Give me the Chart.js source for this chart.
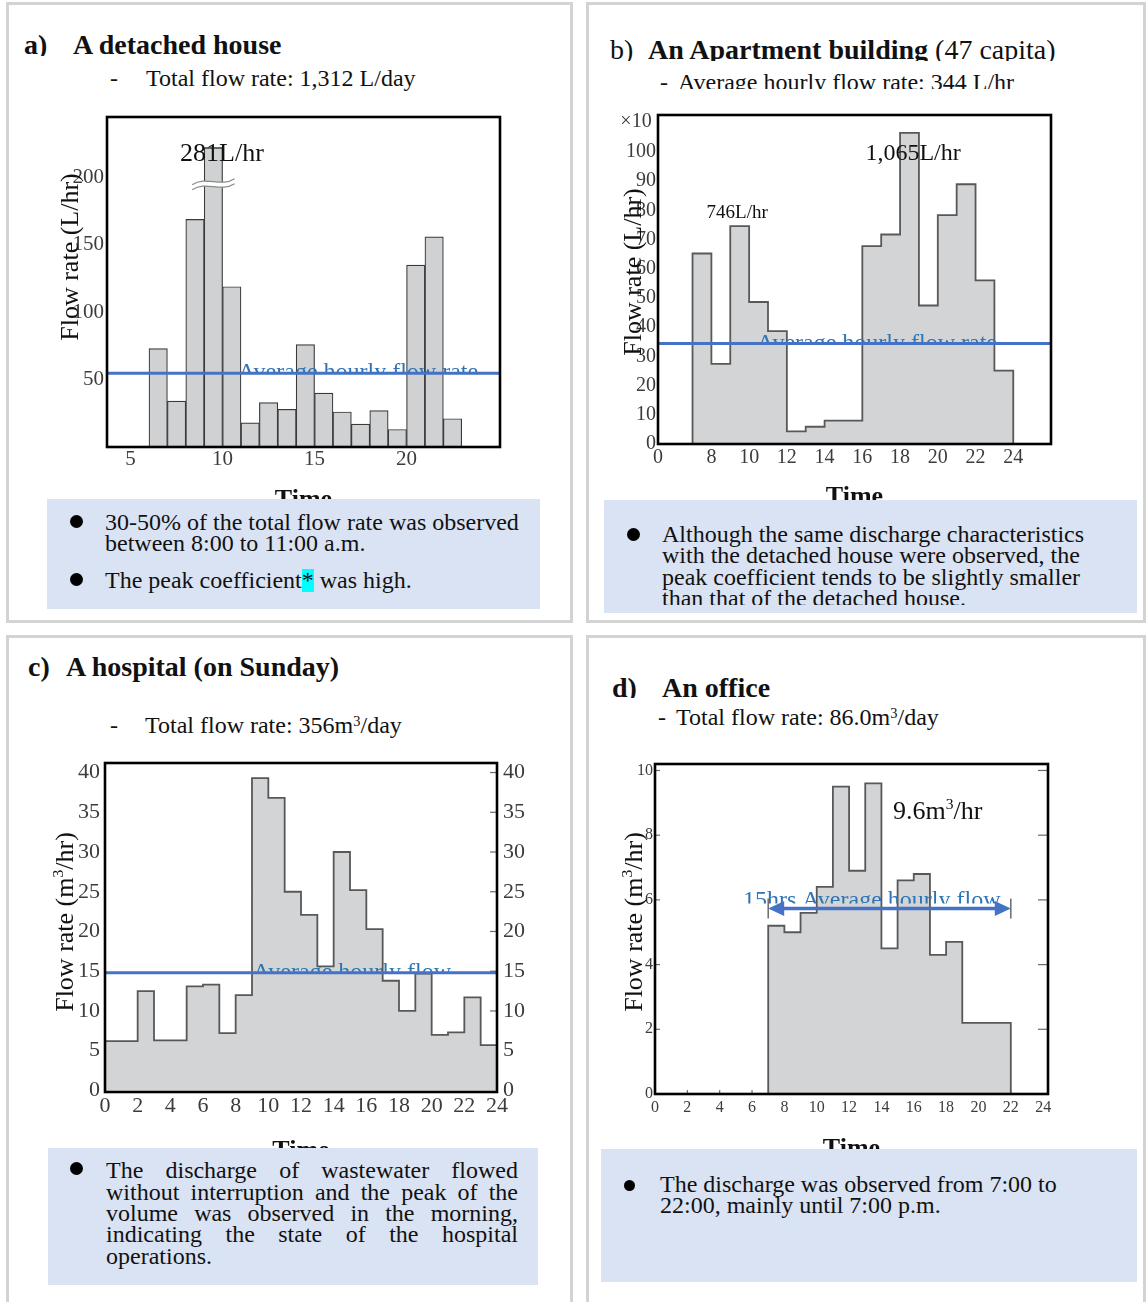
<!DOCTYPE html>
<html lang="en">
<head>
<meta charset="utf-8">
<title>Hourly wastewater discharge by building type</title>
<script src="https://cdn.jsdelivr.net/npm/chart.js@4.4.1/dist/chart.umd.min.js"></script>
<style>
  html, body { margin:0; padding:0; background:#fff; }
  body { position:relative; width:1146px; height:1302px; overflow:hidden;
         font-family:"Liberation Serif","Times New Roman",serif; color:#111; }
  .panel { position:absolute; box-sizing:border-box; border:3px solid #d3d3d3; }
  .clip { position:absolute; overflow:hidden; }
  .t { position:absolute; white-space:nowrap; }
  .h { font-size:28px; line-height:28px; }
  .hb { font-weight:bold; }
  .s { font-size:24px; line-height:24px; }
  .note { position:absolute; background:#dae3f3; }
  .dot { position:absolute; border-radius:50%; background:#000; }
  sup { font-size:0.6em; line-height:0; vertical-align:0.5em; }
  canvas { position:absolute; }
  .mark { background:#00ffff; display:inline-block; line-height:23px; }
  .just { text-align:justify; text-align-last:justify; white-space:normal; }
</style>
</head>
<body>
<!-- panel frames -->
<div class="panel" style="left:6px;top:2px;width:567px;height:621px"></div>
<div class="panel" style="left:586px;top:2px;width:560px;height:621px"></div>
<div class="panel" style="left:6px;top:635px;width:567px;height:680px"></div>
<div class="panel" style="left:586px;top:635px;width:560px;height:680px"></div>

<!-- chart canvases -->
<canvas id="chartA" width="500" height="420" style="left:40px;top:100px"></canvas>
<canvas id="chartB" width="500" height="420" style="left:600px;top:95px"></canvas>
<canvas id="chartC" width="510" height="420" style="left:40px;top:745px"></canvas>
<canvas id="chartD" width="500" height="420" style="left:600px;top:745px"></canvas>

<!-- a) detached house -->
<div class="clip" style="left:0;top:31px;width:580px;height:25px">
  <div class="t h hb" style="left:24px;top:0">a)</div>
  <div class="t h hb" style="left:73px;top:0">A detached house</div>
</div>
<div class="t s" style="left:110px;top:66px">-</div>
<div class="t s" style="left:146px;top:66px">Total flow rate: 1,312 L/day</div>

<!-- b) apartment building -->
<div class="clip" style="left:580px;top:36px;width:566px;height:25px">
  <div class="t h" style="left:30px;top:0">b)</div>
  <div class="t h" style="left:68px;top:0"><b>An Apartment building</b> (47 capita)</div>
</div>
<div class="clip" style="left:580px;top:70px;width:566px;height:19px">
  <div class="t s" style="left:80px;top:0">-</div>
  <div class="t s" style="left:98px;top:0">Average hourly flow rate: 344 L/hr</div>
</div>

<!-- c) hospital -->
<div class="t h hb" style="left:28px;top:653px">c)</div>
<div class="t h hb" style="left:66px;top:653px">A hospital (on Sunday)</div>
<div class="t s" style="left:110px;top:713px">-</div>
<div class="t s" style="left:145px;top:713px">Total flow rate: 356m<sup>3</sup>/day</div>

<!-- d) office -->
<div class="clip" style="left:580px;top:674px;width:566px;height:24px">
  <div class="t h hb" style="left:32px;top:0">d)</div>
  <div class="t h hb" style="left:82px;top:0">An office</div>
</div>
<div class="t s" style="left:658px;top:705px">-</div>
<div class="t s" style="left:676px;top:705px">Total flow rate: 86.0m<sup>3</sup>/day</div>

<!-- notes -->
<div class="note" style="left:47px;top:499px;width:493px;height:110px"></div>
<div class="dot" style="left:70px;top:515px;width:13px;height:13px"></div>
<div class="t s" style="left:105px;top:510px">30-50% of the total flow rate was observed</div>
<div class="t s" style="left:105px;top:531px">between 8:00 to 11:00 a.m.</div>
<div class="dot" style="left:70px;top:573px;width:13px;height:13px"></div>
<div class="t s" style="left:105px;top:568px">The peak coefficient<span class="mark">*</span> was high.</div>

<div class="note" style="left:604px;top:500px;width:533px;height:113px"></div>
<div class="clip" style="left:604px;top:500px;width:533px;height:105px">
  <div class="dot" style="left:23px;top:28px;width:13px;height:13px"></div>
  <div class="t s" style="left:58px;top:22px">Although the same discharge characteristics</div>
  <div class="t s" style="left:58px;top:43px">with the detached house were observed, the</div>
  <div class="t s" style="left:58px;top:65px">peak coefficient tends to be slightly smaller</div>
  <div class="t s" style="left:58px;top:86px">than that of the detached house.</div>
</div>

<div class="note" style="left:48px;top:1148px;width:490px;height:137px"></div>
<div class="dot" style="left:70px;top:1162px;width:13px;height:13px"></div>
<div class="t s just" style="left:106px;top:1158px;width:412px">The discharge of wastewater flowed</div>
<div class="t s just" style="left:106px;top:1180px;width:412px">without interruption and the peak of the</div>
<div class="t s just" style="left:106px;top:1201px;width:412px">volume was observed in the morning,</div>
<div class="t s just" style="left:106px;top:1222px;width:412px">indicating the state of the hospital</div>
<div class="t s" style="left:106px;top:1244px">operations.</div>

<div class="note" style="left:601px;top:1149px;width:536px;height:133px"></div>
<div class="dot" style="left:624px;top:1180px;width:11px;height:11px"></div>
<div class="t s" style="left:660px;top:1172px">The discharge was observed from 7:00 to</div>
<div class="t s" style="left:660px;top:1193px">22:00, mainly until 7:00 p.m.</div>

<script>
// ---------------- data ----------------
// a) detached house: flow (L/hr) for the hour starting at hoursA[i]
const hoursA = [6, 7, 8, 9, 10, 11, 12, 13, 14, 15, 16, 17, 18, 19, 20, 21, 22];
const flowA  = [73, 34, 169, 281, 119, 18, 33, 28, 76, 40, 26, 17, 27, 13, 135, 156, 21];
const avgA = 54.7;
const xTicksA = [5, 10, 15, 20];
const yTicksA = [50, 100, 150, 200];

// b) apartment building: flow in units of 10 L/hr
const hoursB = [7, 8, 9, 10, 11, 12, 13, 14, 15, 16, 17, 18, 19, 20, 21, 22, 23];
const flowB  = [65.2, 27.4, 74.6, 48.6, 38.6, 4.3, 5.9, 8.0, 8.0, 67.7, 71.7, 106.5, 47.4, 78.3, 88.9, 56.0, 25.1];
const avgB = 34.4;
const xTicksB = [8, 10, 12, 14, 16, 18, 20, 22, 24];
const xStartLabelB = '0';
const yTicksB = [0, 10, 20, 30, 40, 50, 60, 70, 80, 90, 100];
const yUnitB = '×10';

// c) hospital on Sunday: flow (m3/hr)
const hoursC = [0, 1, 2, 3, 4, 5, 6, 7, 8, 9, 10, 11, 12, 13, 14, 15, 16, 17, 18, 19, 20, 21, 22, 23];
const flowC  = [6.2, 6.2, 12.5, 6.3, 6.3, 13.1, 13.3, 7.2, 12.0, 39.3, 36.8, 25.0, 22.1, 15.6, 30.0, 25.2, 20.3, 13.8, 10.0, 14.7, 7.0, 7.3, 11.7, 5.7];
const avgC = 14.8;
const xTicksC = [0, 2, 4, 6, 8, 10, 12, 14, 16, 18, 20, 22, 24];
const yTicksC = [0, 5, 10, 15, 20, 25, 30, 35, 40];

// d) office: flow (m3/hr)
const hoursD = [7, 8, 9, 10, 11, 12, 13, 14, 15, 16, 17, 18, 19, 20, 21];
const flowD  = [5.2, 5.0, 5.6, 6.4, 9.5, 6.9, 9.6, 4.5, 6.6, 6.8, 4.3, 4.7, 2.2, 2.2, 2.2];
const avgD = 5.73;
const avgSpanD = [7, 22];
const xTicksD = [0, 2, 4, 6, 8, 10, 12, 14, 16, 18, 20, 22, 24];
const yTicksD = [0, 2, 4, 6, 8, 10];

// ---------------- styling ----------------
const SERIF = '"Liberation Serif", "Times New Roman", serif';
const TICK_COLOR = '#3c3c3c';
const LINE_BLUE = '#4472c4';
const TEXT_BLUE = '#2e75b6';
const FILL = '#d3d4d6';
const EDGE = '#585858';

function seg(ctx, x1, y1, x2, y2) {
  ctx.beginPath(); ctx.moveTo(x1, y1); ctx.lineTo(x2, y2); ctx.stroke();
}

// text with optional superscript pieces
function drawRich(ctx, parts, x, y, size, align) {
  let w = 0;
  parts.forEach(p => { ctx.font = `${p.sup ? size * 0.6 : size}px ${SERIF}`; w += ctx.measureText(p.t).width; });
  let cx = align === 'center' ? x - w / 2 : x;
  ctx.textAlign = 'left';
  parts.forEach(p => {
    const s = p.sup ? size * 0.6 : size;
    ctx.font = `${s}px ${SERIF}`;
    ctx.fillText(p.t, cx, p.sup ? y - size * 0.38 : y);
    cx += ctx.measureText(p.t).width;
  });
}

function drawBreak(ctx, cx, y, w) {
  const half = w / 2 + 12, amp = 3, gap = 5;
  const wave = (y0, move) => {
    if (move) ctx.moveTo(cx - half, y0 + amp);
    ctx.bezierCurveTo(cx - half / 3, y0 - amp * 2, cx + half / 3, y0 + amp * 2, cx + half, y0 - amp);
  };
  ctx.save();
  ctx.beginPath();
  wave(y, true);
  ctx.lineTo(cx + half, y - amp + gap);
  ctx.bezierCurveTo(cx + half / 3, y + amp * 2 + gap, cx - half / 3, y - amp * 2 + gap, cx - half, y + amp + gap);
  ctx.closePath();
  ctx.fillStyle = '#fff';
  ctx.fill();
  ctx.strokeStyle = '#8a8a8a'; ctx.lineWidth = 1.2;
  ctx.beginPath(); wave(y, true); ctx.stroke();
  ctx.beginPath(); wave(y + gap, true); ctx.stroke();
  ctx.restore();
}

// axis titles, annotations, average lines, frame
const decor = {
  id: 'decor',
  beforeDatasetsDraw(chart, _args, o) {
    const { ctx, chartArea: A, scales } = chart;
    if (o.innerTicks) {
      const it = o.innerTicks;
      ctx.save(); ctx.strokeStyle = '#6b6b6b'; ctx.lineWidth = 1.2;
      (it.left || []).forEach(v => { const y = scales.y.getPixelForValue(v); seg(ctx, A.left, y, A.left + it.lenL, y); });
      (it.right || []).forEach(v => { const y = scales.y.getPixelForValue(v); seg(ctx, A.right - it.lenR, y, A.right, y); });
      (it.bottom || []).forEach(v => { const x = scales.x.getPixelForValue(v); seg(ctx, x, A.bottom, x, A.bottom - it.lenB); });
      ctx.restore();
    }
    if (o.cap) {
      const yc = scales.y.getPixelForValue(o.cap.value);
      ctx.save();
      ctx.beginPath(); ctx.rect(A.left, yc, A.right - A.left, A.bottom - yc + 2); ctx.clip();
    }
  },
  afterDatasetsDraw(chart, _args, o) {
    const { ctx, chartArea: A, scales } = chart;
    const xs = scales.x, ys = scales.y;
    if (o.cap) {
      ctx.restore();
      const yc = ys.getPixelForValue(o.cap.value);
      const yb = ys.getPixelForValue(o.cap.breakAt);
      const pts = chart.data.datasets[0].data;
      chart.getDatasetMeta(0).data.forEach((bar, i) => {
        if (pts[i].y <= o.cap.value) return;
        const { x, width } = bar.getProps(['x', 'width'], true);
        ctx.save(); ctx.strokeStyle = '#3a3a3a'; ctx.lineWidth = 1.5;
        seg(ctx, x - width / 2, yc, x + width / 2, yc); ctx.restore();
        drawBreak(ctx, x, yb, width);
      });
    }
    if (o.avg) {
      const av = o.avg;
      const yv = ys.getPixelForValue(av.value);
      // label sits on the line, its lower part hidden by it
      ctx.save();
      ctx.beginPath(); ctx.rect(A.left, A.top, A.right - A.left, yv - av.clip - A.top); ctx.clip();
      ctx.fillStyle = TEXT_BLUE; ctx.textBaseline = 'alphabetic'; ctx.textAlign = 'left';
      ctx.font = `24px ${SERIF}`;
      ctx.fillText(av.text, xs.getPixelForValue(av.labelAt), yv + av.base);
      ctx.restore();
      ctx.save();
      ctx.strokeStyle = LINE_BLUE; ctx.lineWidth = av.width || 3;
      if (av.span) {
        const x1 = xs.getPixelForValue(av.span[0]), x2 = xs.getPixelForValue(av.span[1]);
        ctx.save(); ctx.strokeStyle = '#6b6b6b'; ctx.lineWidth = 1.5;
        seg(ctx, x1, yv - 10, x1, yv + 10); seg(ctx, x2, yv - 10, x2, yv + 10); ctx.restore();
        seg(ctx, x1 + 10, yv, x2 - 10, yv);
        ctx.fillStyle = LINE_BLUE;
        ctx.beginPath(); ctx.moveTo(x1, yv); ctx.lineTo(x1 + 16, yv - 7.5); ctx.lineTo(x1 + 16, yv + 7.5); ctx.closePath(); ctx.fill();
        ctx.beginPath(); ctx.moveTo(x2, yv); ctx.lineTo(x2 - 16, yv - 7.5); ctx.lineTo(x2 - 16, yv + 7.5); ctx.closePath(); ctx.fill();
      } else {
        seg(ctx, A.left, yv, A.right, yv);
      }
      ctx.restore();
    }
  },
  afterDraw(chart, _args, o) {
    const { ctx, chartArea: A, scales } = chart;
    const xs = scales.x, ys = scales.y;
    (o.notes || []).forEach(n => {
      const x = (n.x != null ? xs.getPixelForValue(n.x) : A.left) + n.dx;
      const y = (n.y != null ? ys.getPixelForValue(n.y) : A.top) + n.dy;
      ctx.save(); ctx.fillStyle = n.color || '#111'; ctx.textBaseline = 'alphabetic';
      drawRich(ctx, n.parts, x, y + n.size * 0.3, n.size, n.align);
      ctx.restore();
    });
    if (o.ytitle) {
      const t = o.ytitle;
      ctx.save();
      ctx.translate(A.left + t.dx, (A.top + A.bottom) / 2 + t.dy);
      ctx.rotate(-Math.PI / 2);
      ctx.fillStyle = '#111'; ctx.textBaseline = 'alphabetic';
      drawRich(ctx, t.parts, 0, t.size * 0.3, t.size, 'center');
      ctx.restore();
    }
    if (o.xtitle) {
      ctx.save();
      ctx.fillStyle = '#111'; ctx.textAlign = 'center'; ctx.textBaseline = 'alphabetic';
      ctx.font = `bold 26px ${SERIF}`;
      ctx.fillText(o.xtitle.text, (A.left + A.right) / 2, A.bottom + o.xtitle.dy);
      ctx.restore();
    }
    ctx.save();
    ctx.strokeStyle = '#000'; ctx.lineWidth = 2.6;
    ctx.strokeRect(A.left, A.top, A.right - A.left, A.bottom - A.top);
    ctx.restore();
  }
};

// ---------------- helpers ----------------
function stepPoints(hours, values) {
  const pts = [{ x: hours[0], y: 0 }];
  hours.forEach((h, i) => pts.push({ x: h, y: values[i] }));
  pts.push({ x: hours[hours.length - 1] + 1, y: 0 });
  return pts;
}

function stepDataset(hours, values) {
  return {
    type: 'line', data: stepPoints(hours, values), stepped: 'before', fill: 'origin',
    backgroundColor: FILL, borderColor: EDGE, borderWidth: 1.8, pointRadius: 0, tension: 0
  };
}

function noPad(s) { s.paddingLeft = 0; s.paddingRight = 0; s.paddingTop = 0; s.paddingBottom = 0; }

function axis(o) {
  const horizontal = o.kind === 'x';
  return {
    type: 'linear', position: o.position, min: o.min, max: o.max, offset: false,
    grid: { display: false, drawTicks: false }, border: { display: false },
    ticks: {
      autoSkip: false, maxRotation: 0, padding: o.pad, color: TICK_COLOR,
      font: { family: SERIF, size: o.size },
      callback: o.label || (v => String(v))
    },
    afterBuildTicks: s => { s.ticks = o.ticks.map(v => ({ value: v })); },
    afterFit: s => { if (horizontal) s.height = o.extent; else s.width = o.extent; noPad(s); }
  };
}

function makeChart(id, area, datasets, scales, decorOpts, rightAxis) {
  const el = document.getElementById(id);
  return new Chart(el, {
    type: 'line',
    data: { datasets },
    options: {
      responsive: false, animation: false, devicePixelRatio: 1, events: [],
      layout: { padding: { left: 0, top: area.t, right: rightAxis ? 0 : el.width - area.r, bottom: 0 } },
      scales,
      plugins: { legend: { display: false }, tooltip: { enabled: false }, decor: decorOpts }
    },
    plugins: [decor]
  });
}

// ---------------- a) detached house ----------------
(function () {
  const el = document.getElementById('chartA');
  const area = { l: 67, t: 17, r: 460, b: 347 };
  const peak = Math.max(...flowA), pi = flowA.indexOf(peak);
  makeChart('chartA', area, [{
    type: 'bar',
    data: hoursA.map((h, i) => ({ x: h + 0.5, y: flowA[i] })),
    backgroundColor: '#d0d1d3', borderColor: '#3a3a3a', borderWidth: 1.2,
    barPercentage: 1, categoryPercentage: 1
  }], {
    x: axis({ kind: 'x', position: 'bottom', min: 3.717, max: 25.08, ticks: xTicksA, pad: 0, size: 21, extent: el.height - area.b }),
    y: axis({ kind: 'y', position: 'left', min: 0, max: 245, ticks: yTicksA, pad: 3, size: 21, extent: area.l })
  }, {
    cap: { value: 222, breakAt: 197 },
    avg: { value: avgA, labelAt: 10.84, text: 'Average hourly flow rate', clip: 1, base: 6 },
    notes: [{ parts: [{ t: `${peak}L/hr` }], x: hoursA[pi] + 0.5, dx: 8.6, dy: 36, size: 26, align: 'center' }],
    ytitle: { parts: [{ t: 'Flow rate (L/hr)' }], dx: -37, dy: -25, size: 26 },
    xtitle: { text: 'Time', dy: 60 }
  });
})();

// ---------------- b) apartment building ----------------
(function () {
  const el = document.getElementById('chartB');
  const area = { l: 58, t: 20, r: 451, b: 349 };
  const xMin = 5.17;
  const morning = hoursB.map((h, i) => i).filter(i => hoursB[i] < 12);
  const evening = hoursB.map((h, i) => i).filter(i => hoursB[i] >= 12);
  const peakIdx = ids => ids.reduce((a, b) => (flowB[b] > flowB[a] ? b : a));
  const m = peakIdx(morning), e = peakIdx(evening);
  const lbl = v => Math.round(v * 10).toLocaleString('en-US') + 'L/hr';
  makeChart('chartB', area, [stepDataset(hoursB, flowB)], {
    x: axis({ kind: 'x', position: 'bottom', min: xMin, max: 26, ticks: [xMin, ...xTicksB], pad: 1.5, size: 20,
              extent: el.height - area.b, label: v => (v === xMin ? xStartLabelB : String(v)) }),
    y: axis({ kind: 'y', position: 'left', min: 0, max: 112.6, ticks: yTicksB, pad: 2, size: 20, extent: area.l })
  }, {
    avg: { value: avgB, labelAt: 10.41, text: 'Average hourly flow rate', clip: 1, base: 7 },
    notes: [
      { parts: [{ t: yUnitB }], dx: -22, dy: 6, size: 20, align: 'center', color: TICK_COLOR },
      { parts: [{ t: lbl(flowB[m]) }], x: hoursB[m] + 0.5, dx: -2.5, y: flowB[m], dy: -14, size: 19, align: 'center' },
      { parts: [{ t: lbl(flowB[e]) }], x: hoursB[e] + 0.5, dx: 3.6, y: flowB[e], dy: 20, size: 24, align: 'center' }
    ],
    ytitle: { parts: [{ t: 'Flow rate (L/hr)' }], dx: -25, dy: -7.5, size: 26 },
    xtitle: { text: 'Time', dy: 60 }
  });
})();

// ---------------- c) hospital ----------------
(function () {
  const el = document.getElementById('chartC');
  const area = { l: 65, t: 18, r: 457, b: 347 };
  makeChart('chartC', area, [stepDataset(hoursC, flowC)], {
    x: axis({ kind: 'x', position: 'bottom', min: 0, max: 24, ticks: xTicksC, pad: 1.5, size: 22, extent: el.height - area.b }),
    y: axis({ kind: 'y', position: 'left', min: -0.2, max: 41.2, ticks: yTicksC, pad: 5, size: 22, extent: area.l }),
    y2: axis({ kind: 'y', position: 'right', min: -0.2, max: 41.2, ticks: yTicksC, pad: 6, size: 22, extent: el.width - area.r })
  }, {
    innerTicks: { right: yTicksC.slice(1), lenR: 7 },
    avg: { value: avgC, labelAt: 9.05, text: 'Average hourly flow', clip: 1, base: 6 },
    ytitle: { parts: [{ t: 'Flow rate (m' }, { t: '3', sup: true }, { t: '/hr)' }], dx: -40, dy: -5.5, size: 26 },
    xtitle: { text: 'Time', dy: 66 }
  }, true);
})();

// ---------------- d) office ----------------
(function () {
  const el = document.getElementById('chartD');
  const area = { l: 55, t: 19, r: 448, b: 349 };
  const peak = Math.max(...flowD), pi = flowD.indexOf(peak);
  makeChart('chartD', area, [stepDataset(hoursD, flowD)], {
    x: axis({ kind: 'x', position: 'bottom', min: 0, max: 24.3, ticks: xTicksD, pad: 4.4, size: 16, extent: el.height - area.b }),
    y: axis({ kind: 'y', position: 'left', min: 0, max: 10.2, ticks: yTicksD, pad: 2, size: 16, extent: area.l })
  }, {
    innerTicks: { left: yTicksD.slice(1), lenL: 5, right: yTicksD.slice(1), lenR: 10, bottom: xTicksD.slice(1, -1), lenB: 4 },
    avg: { value: avgD, span: avgSpanD, labelAt: 5.44, width: 3.5,
           text: `${avgSpanD[1] - avgSpanD[0]}hrs Average hourly flow`, clip: 5, base: -2 },
    notes: [{ parts: [{ t: `${peak.toFixed(1)}m` }, { t: '3', sup: true }, { t: '/hr' }],
              x: hoursD[pi] + 1, dx: 11.5, y: peak, dy: 28, size: 26, align: 'left' }],
    ytitle: { parts: [{ t: 'Flow rate (m' }, { t: '3', sup: true }, { t: '/hr)' }], dx: -21, dy: -7, size: 26 },
    xtitle: { text: 'Time', dy: 62 }
  });
})();
</script>
</body>
</html>
